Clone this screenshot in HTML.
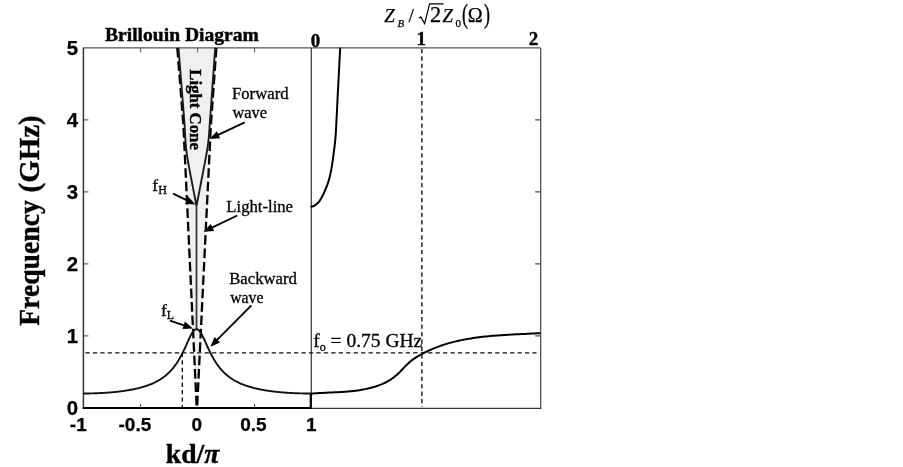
<!DOCTYPE html>
<html lang="en"><head><meta charset="utf-8"><title>Brillouin Diagram</title>
<style>html,body{margin:0;padding:0;background:#fff}svg{display:block;will-change:transform;transform:translateZ(0)}</style></head>
<body>
<svg width="903" height="467" viewBox="0 0 903 467">
<rect width="903" height="467" fill="#fff"/>
<polygon points="177.30,47.90 183.40,125.00 196.70,407.90 197.10,407.90 210.90,125.00 216.40,47.90" fill="#f0f0f0"/>
<g fill="none" stroke-linecap="butt">
<line x1="83.4" y1="47.9" x2="540.7" y2="47.9" stroke="#555" stroke-width="1.2"/>
<line x1="540.7" y1="47.9" x2="540.7" y2="408.4" stroke="#444" stroke-width="1.2"/>
<line x1="311.3" y1="47.9" x2="311.3" y2="407.9" stroke="#333" stroke-width="1.2"/>
<line x1="83.4" y1="47.4" x2="83.4" y2="408.9" stroke="#333" stroke-width="1.5"/>
<line x1="82.7" y1="407.9" x2="311.9" y2="407.9" stroke="#000" stroke-width="2"/>
<line x1="311.3" y1="408.3" x2="541.2" y2="408.3" stroke="#333" stroke-width="1.2"/>
<line x1="310.7" y1="393.5" x2="310.7" y2="408.9" stroke="#000" stroke-width="2"/>
<line x1="83.4" y1="335.9" x2="88.4" y2="335.9" stroke="#444" stroke-width="1"/>
<line x1="540.7" y1="335.9" x2="535.2" y2="335.9" stroke="#333" stroke-width="1.1"/>
<line x1="83.4" y1="263.9" x2="88.4" y2="263.9" stroke="#444" stroke-width="1"/>
<line x1="540.7" y1="263.9" x2="535.2" y2="263.9" stroke="#333" stroke-width="1.1"/>
<line x1="83.4" y1="191.9" x2="88.4" y2="191.9" stroke="#444" stroke-width="1"/>
<line x1="540.7" y1="191.9" x2="535.2" y2="191.9" stroke="#333" stroke-width="1.1"/>
<line x1="83.4" y1="119.9" x2="88.4" y2="119.9" stroke="#444" stroke-width="1"/>
<line x1="540.7" y1="119.9" x2="535.2" y2="119.9" stroke="#333" stroke-width="1.1"/>
<line x1="140.6" y1="47.9" x2="140.6" y2="52.5" stroke="#555" stroke-width="1"/>
<line x1="197.6" y1="47.9" x2="197.6" y2="52.5" stroke="#555" stroke-width="1"/>
<line x1="254.6" y1="47.9" x2="254.6" y2="52.5" stroke="#555" stroke-width="1"/>
<line x1="140.6" y1="407.9" x2="140.6" y2="403.9" stroke="#444" stroke-width="1"/>
<line x1="254.6" y1="407.9" x2="254.6" y2="403.9" stroke="#444" stroke-width="1"/>
</g>
<g fill="none" stroke="#0c0c0c" stroke-width="1.35" stroke-dasharray="4.3 3.15">
<line x1="85.4" y1="352.8" x2="536.5" y2="352.8"/>
<line x1="182.3" y1="352.8" x2="182.3" y2="406.9"/>
<line x1="421.9" y1="48.9" x2="421.9" y2="406.9"/>
</g>
<line x1="196.5" y1="205.9" x2="196.5" y2="329.2" stroke="#3a3a3a" stroke-width="1.8"/>
<g fill="none" stroke="#000" stroke-width="2.3" stroke-dasharray="9.6 3.8">
<polyline points="177.30,47.90 183.40,125.00 196.70,407.90"/>
<polyline points="216.40,47.90 210.90,125.00 197.10,407.90"/>
</g>
<polyline points="83.40,393.50 83.97,393.50 84.54,393.50 85.11,393.49 85.68,393.49 86.25,393.48 86.82,393.48 87.39,393.47 87.96,393.46 88.53,393.45 89.10,393.45 89.67,393.43 90.24,393.42 90.81,393.41 91.38,393.40 91.95,393.38 92.52,393.37 93.09,393.35 93.66,393.34 94.23,393.32 94.80,393.30 95.36,393.28 95.93,393.26 96.50,393.24 97.07,393.22 97.64,393.20 98.21,393.17 98.78,393.15 99.35,393.12 99.92,393.09 100.49,393.07 101.06,393.04 101.63,393.01 102.20,392.98 102.77,392.94 103.34,392.91 103.91,392.88 104.48,392.84 105.05,392.81 105.62,392.77 106.19,392.73 106.76,392.69 107.33,392.65 107.90,392.61 108.47,392.57 109.04,392.52 109.61,392.48 110.18,392.43 110.75,392.38 111.32,392.34 111.89,392.29 112.46,392.24 113.03,392.18 113.60,392.13 114.17,392.07 114.74,392.02 115.31,391.96 115.88,391.90 116.45,391.84 117.02,391.78 117.59,391.72 118.15,391.65 118.72,391.59 119.29,391.52 119.86,391.45 120.43,391.38 121.00,391.31 121.57,391.23 122.14,391.16 122.71,391.08 123.28,391.00 123.85,390.92 124.42,390.84 124.99,390.76 125.56,390.67 126.13,390.58 126.70,390.49 127.27,390.40 127.84,390.31 128.41,390.21 128.98,390.11 129.55,390.01 130.12,389.91 130.69,389.81 131.26,389.70 131.83,389.59 132.40,389.48 132.97,389.37 133.54,389.25 134.11,389.13 134.68,389.01 135.25,388.89 135.82,388.76 136.39,388.63 136.96,388.50 137.53,388.37 138.10,388.23 138.67,388.09 139.24,387.94 139.81,387.80 140.38,387.65 140.94,387.49 141.51,387.34 142.08,387.18 142.65,387.01 143.22,386.84 143.79,386.67 144.36,386.50 144.93,386.32 145.50,386.13 146.07,385.94 146.64,385.75 147.21,385.55 147.78,385.35 148.35,385.14 148.92,384.93 149.49,384.71 150.06,384.49 150.63,384.26 151.20,384.03 151.77,383.79 152.34,383.55 152.91,383.29 153.48,383.04 154.05,382.77 154.62,382.50 155.19,382.22 155.76,381.94 156.33,381.65 156.90,381.35 157.47,381.04 158.04,380.72 158.61,380.40 159.18,380.06 159.75,379.72 160.32,379.37 160.89,379.00 161.46,378.63 162.03,378.25 162.60,377.86 163.17,377.45 163.73,377.03 164.30,376.60 164.87,376.16 165.44,375.71 166.01,375.24 166.58,374.76 167.15,374.26 167.72,373.75 168.29,373.22 168.86,372.68 169.43,372.12 170.00,371.54 170.57,370.94 171.14,370.32 171.71,369.69 172.28,369.03 172.85,368.36 173.42,367.66 173.99,366.94 174.56,366.20 175.13,365.43 175.70,364.64 176.27,363.82 176.84,362.98 177.41,362.11 177.98,361.21 178.55,360.29 179.12,359.33 179.69,358.35 180.26,357.34 180.83,356.30 181.40,355.23 181.97,354.14 182.54,353.01 183.11,351.86 183.68,350.69 184.25,349.49 184.82,348.27 185.39,347.03 185.96,345.78 186.52,344.52 187.09,343.25 187.66,341.98 188.23,340.72 188.80,339.48 189.37,338.26 189.94,337.07 190.51,335.92 191.08,334.83 191.65,333.80 192.22,332.85 192.79,331.98 193.36,331.21 193.93,330.56 194.50,330.02 195.07,329.61 195.64,329.33 196.21,329.19 196.78,329.19 197.35,329.32 197.92,329.60 198.49,330.01 199.06,330.55 199.63,331.20 200.20,331.97 200.77,332.83 201.34,333.78 201.91,334.81 202.48,335.90 203.05,337.05 203.62,338.24 204.19,339.46 204.76,340.70 205.33,341.96 205.90,343.23 206.47,344.50 207.04,345.76 207.61,347.01 208.18,348.25 208.75,349.47 209.31,350.67 209.88,351.85 210.45,353.00 211.02,354.12 211.59,355.22 212.16,356.28 212.73,357.32 213.30,358.33 213.87,359.32 214.44,360.27 215.01,361.20 215.58,362.09 216.15,362.96 216.72,363.81 217.29,364.62 217.86,365.42 218.43,366.18 219.00,366.93 219.57,367.65 220.14,368.35 220.71,369.02 221.28,369.68 221.85,370.31 222.42,370.93 222.99,371.53 223.56,372.11 224.13,372.67 224.70,373.21 225.27,373.74 225.84,374.25 226.41,374.75 226.98,375.23 227.55,375.70 228.12,376.16 228.69,376.60 229.26,377.03 229.83,377.44 230.40,377.85 230.97,378.24 231.53,378.63 232.10,379.00 232.67,379.36 233.24,379.71 233.81,380.06 234.38,380.39 234.95,380.72 235.52,381.03 236.09,381.34 236.66,381.64 237.23,381.93 237.80,382.22 238.37,382.50 238.94,382.77 239.51,383.03 240.08,383.29 240.65,383.54 241.22,383.79 241.79,384.03 242.36,384.26 242.93,384.49 243.50,384.71 244.07,384.93 244.64,385.14 245.21,385.35 245.78,385.55 246.35,385.75 246.92,385.94 247.49,386.13 248.06,386.31 248.63,386.49 249.20,386.67 249.77,386.84 250.34,387.01 250.91,387.17 251.48,387.33 252.05,387.49 252.62,387.64 253.19,387.80 253.76,387.94 254.33,388.09 254.89,388.23 255.46,388.37 256.03,388.50 256.60,388.63 257.17,388.76 257.74,388.89 258.31,389.01 258.88,389.13 259.45,389.25 260.02,389.37 260.59,389.48 261.16,389.59 261.73,389.70 262.30,389.81 262.87,389.91 263.44,390.01 264.01,390.11 264.58,390.21 265.15,390.31 265.72,390.40 266.29,390.49 266.86,390.58 267.43,390.67 268.00,390.75 268.57,390.84 269.14,390.92 269.71,391.00 270.28,391.08 270.85,391.16 271.42,391.23 271.99,391.31 272.56,391.38 273.13,391.45 273.70,391.52 274.27,391.59 274.84,391.65 275.41,391.72 275.98,391.78 276.55,391.84 277.12,391.90 277.68,391.96 278.25,392.02 278.82,392.07 279.39,392.13 279.96,392.18 280.53,392.23 281.10,392.29 281.67,392.34 282.24,392.38 282.81,392.43 283.38,392.48 283.95,392.52 284.52,392.57 285.09,392.61 285.66,392.65 286.23,392.69 286.80,392.73 287.37,392.77 287.94,392.81 288.51,392.84 289.08,392.88 289.65,392.91 290.22,392.94 290.79,392.98 291.36,393.01 291.93,393.04 292.50,393.07 293.07,393.09 293.64,393.12 294.21,393.15 294.78,393.17 295.35,393.20 295.92,393.22 296.49,393.24 297.06,393.26 297.63,393.28 298.20,393.30 298.77,393.32 299.34,393.34 299.90,393.35 300.47,393.37 301.04,393.38 301.61,393.40 302.18,393.41 302.75,393.42 303.32,393.43 303.89,393.45 304.46,393.45 305.03,393.46 305.60,393.47 306.17,393.48 306.74,393.48 307.31,393.49 307.88,393.49 308.45,393.50 309.02,393.50 309.59,393.50 310.16,393.50 310.73,393.50 311.30,393.50" fill="none" stroke="#111" stroke-width="1.9" stroke-linejoin="round"/>
<polyline points="178.50,47.90 178.58,48.89 178.66,49.88 178.73,50.86 178.81,51.85 178.89,52.84 178.97,53.83 179.05,54.81 179.13,55.80 179.20,56.79 179.28,57.78 179.36,58.77 179.44,59.75 179.52,60.74 179.59,61.73 179.67,62.72 179.75,63.70 179.83,64.69 179.91,65.68 179.98,66.67 180.06,67.66 180.14,68.64 180.22,69.63 180.30,70.62 180.38,71.61 180.45,72.59 180.53,73.58 180.61,74.57 180.69,75.56 180.77,76.54 180.84,77.53 180.92,78.52 181.00,79.51 181.08,80.50 181.16,81.48 181.24,82.47 181.31,83.46 181.39,84.45 181.47,85.43 181.55,86.42 181.63,87.41 181.70,88.40 181.78,89.39 181.86,90.37 181.94,91.36 182.02,92.35 182.09,93.34 182.17,94.32 182.25,95.31 182.33,96.30 182.41,97.29 182.49,98.28 182.56,99.26 182.64,100.25 182.72,101.24 182.80,102.23 182.88,103.21 182.96,104.20 183.03,105.19 183.11,106.18 183.19,107.16 183.27,108.15 183.35,109.14 183.42,110.13 183.50,111.12 183.58,112.10 183.66,113.09 183.74,114.08 183.82,115.07 183.89,116.05 183.97,117.04 184.05,118.03 184.13,119.02 184.21,120.01 184.29,120.99 184.37,121.98 184.45,122.97 184.53,123.96 184.60,124.94 184.65,125.93 184.70,126.92 184.75,127.91 184.80,128.90 184.85,129.88 184.90,130.87 184.95,131.86 185.00,132.85 185.06,133.83 185.11,134.82 185.17,135.81 185.22,136.80 185.28,137.79 185.34,138.77 185.41,139.76 185.47,140.75 185.54,141.74 185.62,142.72 185.69,143.71 185.77,144.70 185.86,145.69 185.95,146.67 186.05,147.66 186.15,148.65 186.26,149.64 186.38,150.63 186.50,151.61 186.62,152.60 186.76,153.59 186.90,154.58 187.04,155.56 187.19,156.55 187.35,157.54 187.51,158.53 187.67,159.52 187.84,160.50 188.01,161.49 188.19,162.48 188.36,163.47 188.54,164.45 188.72,165.44 188.90,166.43 189.09,167.42 189.27,168.41 189.46,169.39 189.64,170.38 189.83,171.37 190.02,172.36 190.20,173.34 190.39,174.33 190.58,175.32 190.77,176.31 190.96,177.30 191.15,178.28 191.34,179.27 191.53,180.26 191.72,181.25 191.91,182.23 192.10,183.22 192.30,184.21 192.49,185.20 192.68,186.18 192.87,187.17 193.06,188.16 193.25,189.15 193.44,190.14 193.63,191.12 193.82,192.11 194.01,193.10 194.21,194.09 194.40,195.07 194.59,196.06 194.78,197.05 194.97,198.04 195.16,199.03 195.35,200.01 195.54,201.00 195.74,201.99 195.93,202.98 196.12,203.96 196.31,204.95 196.50,205.94 196.69,204.95 196.88,203.96 197.07,202.98 197.26,201.99 197.46,201.00 197.65,200.01 197.84,199.03 198.03,198.04 198.22,197.05 198.41,196.06 198.60,195.07 198.79,194.09 198.99,193.10 199.18,192.11 199.37,191.12 199.56,190.14 199.75,189.15 199.94,188.16 200.13,187.17 200.32,186.18 200.52,185.20 200.71,184.21 200.90,183.22 201.09,182.23 201.28,181.25 201.47,180.26 201.66,179.27 201.85,178.28 202.04,177.30 202.23,176.31 202.43,175.32 202.62,174.33 202.81,173.34 203.00,172.36 203.19,171.37 203.38,170.38 203.57,169.39 203.76,168.41 203.95,167.42 204.14,166.43 204.33,165.44 204.51,164.45 204.70,163.47 204.89,162.48 205.08,161.49 205.26,160.50 205.45,159.52 205.63,158.53 205.82,157.54 206.00,156.55 206.18,155.56 206.35,154.58 206.53,153.59 206.70,152.60 206.87,151.61 207.04,150.63 207.20,149.64 207.36,148.65 207.52,147.66 207.67,146.67 207.81,145.69 207.95,144.70 208.08,143.71 208.21,142.72 208.33,141.74 208.44,140.75 208.55,139.76 208.65,138.77 208.75,137.79 208.84,136.80 208.93,135.81 209.01,134.82 209.09,133.83 209.16,132.85 209.23,131.86 209.30,130.87 209.37,129.88 209.43,128.90 209.49,127.91 209.55,126.92 209.61,125.93 209.66,124.94 209.74,123.96 209.81,122.97 209.89,121.98 209.96,120.99 210.04,120.01 210.11,119.02 210.18,118.03 210.25,117.04 210.33,116.05 210.40,115.07 210.47,114.08 210.54,113.09 210.61,112.10 210.68,111.12 210.76,110.13 210.83,109.14 210.90,108.15 210.97,107.16 211.04,106.18 211.11,105.19 211.18,104.20 211.25,103.21 211.32,102.23 211.39,101.24 211.46,100.25 211.53,99.26 211.61,98.28 211.68,97.29 211.75,96.30 211.82,95.31 211.89,94.32 211.96,93.34 212.03,92.35 212.10,91.36 212.17,90.37 212.24,89.39 212.31,88.40 212.38,87.41 212.45,86.42 212.52,85.43 212.59,84.45 212.66,83.46 212.73,82.47 212.80,81.48 212.87,80.50 212.95,79.51 213.02,78.52 213.09,77.53 213.16,76.54 213.23,75.56 213.30,74.57 213.37,73.58 213.44,72.59 213.51,71.61 213.58,70.62 213.65,69.63 213.72,68.64 213.79,67.66 213.86,66.67 213.93,65.68 214.00,64.69 214.07,63.70 214.14,62.72 214.21,61.73 214.28,60.74 214.35,59.75 214.42,58.77 214.50,57.78 214.57,56.79 214.64,55.80 214.71,54.81 214.78,53.83 214.85,52.84 214.92,51.85 214.99,50.86 215.06,49.88 215.13,48.89 215.20,47.90" fill="none" stroke="#1c1c1c" stroke-width="1.9" stroke-linejoin="miter"/>
<path d="M311.30,393.64 L313.23,393.48 L315.15,393.33 L317.08,393.20 L319.00,393.08 L320.93,392.98 L322.86,392.88 L324.78,392.79 L326.71,392.70 L328.63,392.62 L330.56,392.53 L332.49,392.45 L334.41,392.36 L336.34,392.27 L338.26,392.18 L340.19,392.07 L342.12,391.96 L344.04,391.83 L345.97,391.69 L347.89,391.54 L349.82,391.36 L351.75,391.17 L353.67,390.96 L355.60,390.72 L357.53,390.46 L359.45,390.17 L361.38,389.85 L363.30,389.50 L365.23,389.12 L367.16,388.71 L369.08,388.26 L371.01,387.77 L372.93,387.24 L374.86,386.67 L376.79,386.06 L378.71,385.40 L380.64,384.67 L382.56,383.88 L384.49,383.01 L386.42,382.05 L388.34,380.98 L390.27,379.81 L392.19,378.51 L394.12,377.08 L396.05,375.51 L397.97,373.79 L399.90,371.92 L401.82,369.94 L403.75,367.93 L405.68,365.93 L407.60,364.00 L409.53,362.20 L411.45,360.58 L413.38,359.16 L415.31,357.88 L417.23,356.71 L419.16,355.58 L421.08,354.50 L423.01,353.46 L424.94,352.46 L426.86,351.51 L428.79,350.59 L430.72,349.72 L432.64,348.88 L434.57,348.08 L436.49,347.32 L438.42,346.58 L440.35,345.89 L442.27,345.22 L444.20,344.59 L446.12,343.99 L448.05,343.41 L449.98,342.87 L451.90,342.35 L453.83,341.86 L455.75,341.39 L457.68,340.94 L459.61,340.52 L461.53,340.12 L463.46,339.74 L465.38,339.37 L467.31,339.03 L469.24,338.70 L471.16,338.39 L473.09,338.10 L475.01,337.81 L476.94,337.55 L478.87,337.30 L480.79,337.06 L482.72,336.83 L484.64,336.61 L486.57,336.41 L488.50,336.22 L490.42,336.04 L492.35,335.86 L494.27,335.70 L496.20,335.55 L498.13,335.40 L500.05,335.26 L501.98,335.13 L503.91,335.01 L505.83,334.89 L507.76,334.77 L509.68,334.66 L511.61,334.56 L513.54,334.46 L515.46,334.36 L517.39,334.26 L519.31,334.17 L521.24,334.08 L523.17,333.99 L525.09,333.89 L527.02,333.80 L528.94,333.71 L530.87,333.62 L532.80,333.52 L534.72,333.42 L536.65,333.32 L538.57,333.22 L540.50,333.11" fill="none" stroke="#000" stroke-width="2" stroke-linejoin="round"/>
<path d="M310.60,206.90 C311.25,206.68 313.05,206.53 314.50,205.60 C315.95,204.67 317.70,203.47 319.30,201.30 C320.90,199.13 322.50,196.13 324.10,192.60 C325.70,189.07 327.62,184.43 328.90,180.10 C330.18,175.77 331.00,171.10 331.80,166.60 C332.60,162.10 333.15,157.27 333.70,153.10 C334.25,148.93 334.72,145.45 335.10,141.60 C335.48,137.75 335.58,137.30 336.00,130.00 C336.42,122.70 337.08,107.98 337.60,97.80 C338.12,87.62 338.67,77.25 339.10,68.90 C339.53,60.55 340.02,51.23 340.20,47.70" fill="none" stroke="#000" stroke-width="2" stroke-linejoin="round"/>
<line x1="244.7" y1="122.4" x2="217.6" y2="135.2" stroke="#000" stroke-width="1.9"/><polygon points="209.6,139.0 216.8,131.3 220.1,138.3" fill="#000"/>
<line x1="173.1" y1="193.7" x2="187.6" y2="200.7" stroke="#000" stroke-width="1.9"/><polygon points="195.5,204.6 185.0,203.8 188.4,196.8" fill="#000"/>
<line x1="237.3" y1="215.5" x2="211.5" y2="227.9" stroke="#000" stroke-width="1.9"/><polygon points="203.6,231.7 210.7,223.9 214.1,231.0" fill="#000"/>
<line x1="251.4" y1="305.3" x2="216.6" y2="340.4" stroke="#000" stroke-width="1.9"/><polygon points="210.4,346.7 214.5,337.0 220.1,342.5" fill="#000"/>
<line x1="169.9" y1="320.7" x2="184.7" y2="325.6" stroke="#000" stroke-width="1.9"/><polygon points="193.0,328.4 182.5,329.0 184.9,321.6" fill="#000"/>
<g style="font-family:'Liberation Sans',Arial,sans-serif;font-weight:bold;font-size:20.4px" fill="#000" stroke="#000" stroke-width="0.25">
<text x="78.0" y="414.6" text-anchor="end">0</text>
<text x="78.0" y="342.6" text-anchor="end">1</text>
<text x="78.0" y="270.6" text-anchor="end">2</text>
<text x="78.0" y="198.6" text-anchor="end">3</text>
<text x="78.0" y="126.6" text-anchor="end">4</text>
<text x="78.0" y="54.6" text-anchor="end">5</text>
</g>
<g style="font-family:'Liberation Sans',Arial,sans-serif;font-weight:bold;font-size:19px" fill="#000" stroke="#000" stroke-width="0.25">
<text x="78.3" y="431" text-anchor="middle">-1</text>
<text x="134.9" y="431" text-anchor="middle">-0.5</text>
<text x="196.9" y="431" text-anchor="middle">0</text>
<text x="253.4" y="431" text-anchor="middle">0.5</text>
<text x="311.4" y="431" text-anchor="middle">1</text>
</g>
<g style="font-family:'Liberation Serif','Times New Roman',serif;font-weight:bold" fill="#000" stroke="#000" stroke-width="0.4">
<text x="105" y="40.8" style="font-size:18.3px" textLength="153.8" lengthAdjust="spacingAndGlyphs">Brillouin Diagram</text>
<text transform="translate(165.8,462.5) scale(1.0,1)" style="font-size:27.6px">kd/<tspan style="font-style:italic">π</tspan></text>
<text transform="translate(39.1,325.8) rotate(-90) scale(0.923,1)" style="font-size:30px">Frequency</text>
<text transform="translate(39.1,192.4) rotate(-90) scale(0.963,1)" style="font-size:30px">(GHz)</text>
<text transform="translate(189.5,69.2) rotate(90)" style="font-size:16.8px">Light Cone</text>
<text x="315.4" y="47.2" text-anchor="middle" style="font-size:19px">0</text>
<text x="421.3" y="44.9" text-anchor="middle" style="font-size:19px">1</text>
<text x="533.5" y="44.9" text-anchor="middle" style="font-size:19px">2</text>
</g>
<g style="font-family:'Liberation Serif','Times New Roman',serif;font-size:16.7px" fill="#000" stroke="#000" stroke-width="0.3">
<text x="232.0" y="98.9">Forward</text>
<text x="232.4" y="117.8" style="font-size:16.4px">wave</text>
<text x="226.3" y="211.6">Light-line</text>
<text x="229.2" y="284.1">Backward</text>
<text x="230.2" y="302.8" style="font-size:15.8px">wave</text>
<text x="152.3" y="190.8" style="font-size:17.5px">f<tspan dy="3.4" style="font-size:12px">H</tspan></text>
<text x="161" y="315.9" style="font-size:17.5px">f<tspan dy="3.2" style="font-size:12px">L</tspan></text>
<text x="313.2" y="347.4" style="font-size:19.5px">f<tspan dy="3.2" style="font-size:12px">o</tspan><tspan dy="-3.2"> = 0.75 GHz</tspan></text>
</g>
<g style="font-family:'Liberation Serif','Times New Roman',serif" fill="#000" stroke="#000" stroke-width="0.25">
<text x="384.3" y="21.9" style="font-size:18.8px;font-style:italic">Z</text>
<text x="397.4" y="27" style="font-size:11px;font-style:italic">B</text>
<text x="408.6" y="21.9" style="font-size:19.5px">/</text>
<path d="M418.8,18.2 L420.8,16.9 L424.6,23.6 L429.6,3.9 L443.6,3.9" fill="none" stroke="#000" stroke-width="1.2" stroke-linejoin="miter"/>
<text x="430" y="21.9" style="font-size:22.5px">2</text>
<text x="442.4" y="21.9" style="font-size:18.8px;font-style:italic">Z</text>
<text x="455.6" y="27" style="font-size:11px">0</text>
<text x="0" y="0" transform="translate(462,22.6) scale(0.95,1.42)" style="font-size:19px">(</text>
<text x="467.7" y="21.9" style="font-size:20px">Ω</text>
<text x="0" y="0" transform="translate(484,22.6) scale(0.95,1.42)" style="font-size:19px">)</text>
</g>
</svg>
</body></html>
